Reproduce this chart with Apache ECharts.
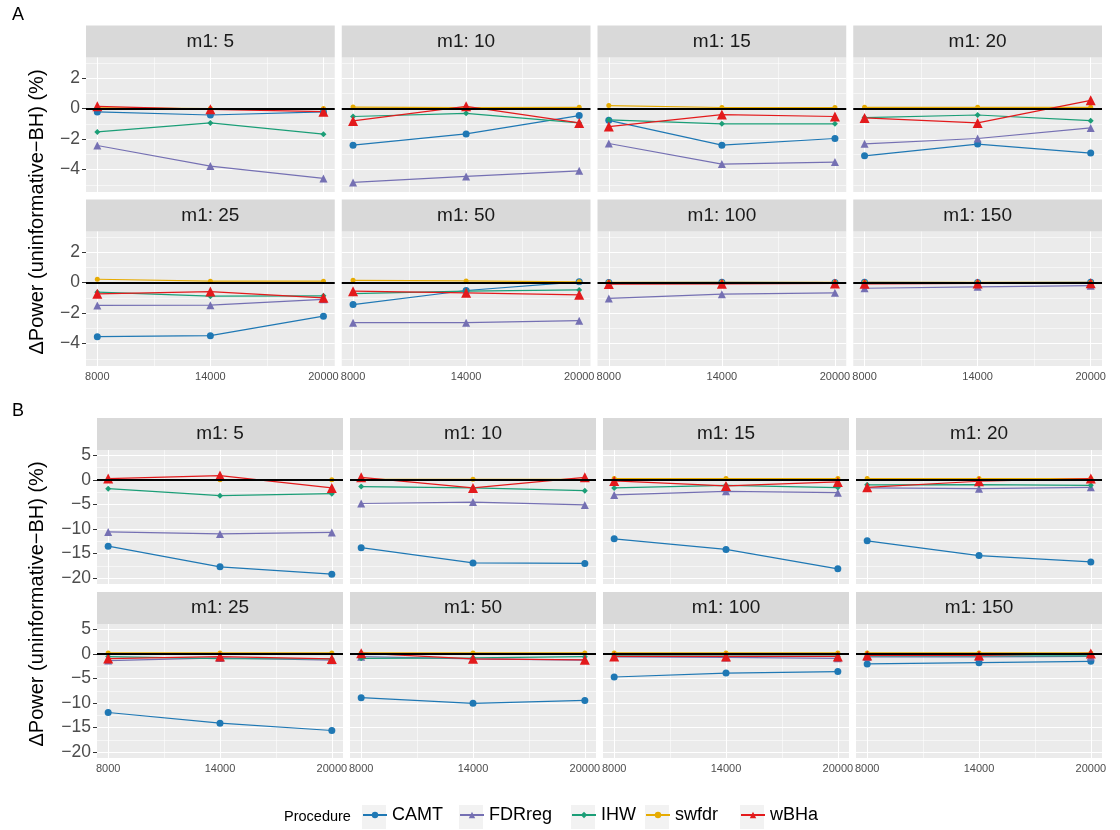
<!DOCTYPE html>
<html>
<head>
<meta charset="utf-8">
<title>ΔPower by number of tests</title>
<script src="https://cdn.jsdelivr.net/npm/echarts@6/dist/echarts.min.js"></script>
<style>
  html, body { margin: 0; padding: 0; background: #ffffff; }
  #chart { width: 1120px; height: 830px; }
</style>
</head>
<body>
<div id="chart"></div>
<script>
// ---- data ----------------------------------------------------------------
const nTests = [8000, 14000, 20000];
const m1Levels = [5, 10, 15, 20, 25, 50, 100, 150];
const procedures = ['CAMT', 'FDRreg', 'IHW', 'swfdr', 'wBHa'];

const xTicks = [8000, 14000, 20000];
const xMinor = [11000, 17000];
const yTicksA = [-4, -2, 0, 2];
const yMinorA = [-5, -3, -1, 1, 3];
const yTicksB = [-20, -15, -10, -5, 0, 5];
const yMinorB = [-17.5, -12.5, -7.5, -2.5, 2.5];

// one row per m1 level, one value per number of tests
const camtA = [
  [-0.22, -0.42, -0.22], [-2.40, -1.66, -0.46], [-0.77, -2.40, -1.96], [-3.10, -2.33, -2.92],
  [-3.55, -3.48, -2.20], [-1.44, -0.52, 0.05], [0.00, 0.02, 0.00], [0.02, 0.00, 0.02]
];
const fdrregA = [
  [-2.42, -3.77, -4.58], [-4.84, -4.45, -4.08], [-2.29, -3.64, -3.51], [-2.31, -1.96, -1.27],
  [-1.50, -1.48, -1.10], [-2.63, -2.63, -2.50], [-1.04, -0.76, -0.67], [-0.37, -0.28, -0.20]
];
const ihwA = [
  [-1.53, -0.94, -1.68], [-0.52, -0.31, -0.94], [-0.74, -1.00, -1.00], [-0.59, -0.42, -0.79],
  [-0.63, -0.89, -0.87], [-0.72, -0.56, -0.48], [-0.05, -0.03, -0.03], [-0.03, -0.02, -0.02]
];
const swfdrA = [
  [0.05, 0.00, 0.00], [0.10, 0.06, 0.08], [0.20, 0.07, 0.07], [0.08, 0.08, 0.08],
  [0.22, 0.09, 0.09], [0.15, 0.11, 0.05], [0.02, 0.02, 0.02], [0.02, 0.02, 0.02]
];
const wbhaA = [
  [0.15, -0.05, -0.20], [-0.81, 0.15, -0.94], [-1.18, -0.39, -0.52], [-0.61, -0.94, 0.54],
  [-0.74, -0.59, -1.00], [-0.56, -0.67, -0.80], [-0.10, -0.08, -0.06], [-0.08, -0.06, -0.05]
];

const camtB = [
  [-13.5, -17.7, -19.2], [-13.8, -16.9, -17.0], [-12.0, -14.15, -18.1], [-12.4, -15.4, -16.7],
  [-11.93, -14.1, -15.6], [-8.9, -10.07, -9.46], [-4.7, -3.9, -3.6], [-2.04, -1.77, -1.5]
];
const fdrregB = [
  [-10.6, -11.0, -10.7], [-4.8, -4.5, -5.1], [-3.06, -2.31, -2.59], [-1.63, -1.77, -1.5],
  [-1.36, -0.81, -1.29], [-0.55, -1.0, -1.25], [-0.6, -0.7, -0.9], [-0.6, -0.6, -0.5]
];
const ihwB = [
  [-1.77, -3.2, -2.79], [-1.36, -1.63, -2.18], [-1.63, -1.09, -1.56], [-1.0, -0.95, -1.09],
  [-0.54, -0.95, -1.02], [-0.9, -0.8, -0.55], [-0.4, -0.45, -0.45], [-0.4, -0.4, -0.4]
];
const swfdrB = [
  [0.05, 0.05, 0.05], [0.12, 0.12, 0.12], [0.27, 0.27, 0.27], [0.27, 0.27, 0.27],
  [0.2, 0.2, 0.2], [0.2, 0.2, 0.2], [0.2, 0.2, 0.2], [0.2, 0.2, 0.2]
];
const wbhaB = [
  [0.27, 0.88, -1.63], [0.54, -1.63, 0.54], [-0.2, -1.22, -0.41], [-1.5, -0.27, 0.27],
  [-0.95, -0.54, -1.02], [0.15, -1.0, -1.2], [-0.5, -0.5, -0.5], [-0.3, -0.3, 0.1]
];

// ---- styling / layout ----------------------------------------------------
const FONT = '"Liberation Sans", Arial, Helvetica, sans-serif';
const procStyle = {
  CAMT:   { color: '#1f78b4', symbol: 'circle',   size: 7 },
  FDRreg: { color: '#7570b3', symbol: 'triangle', size: 8 },
  IHW:    { color: '#1b9e77', symbol: 'diamond',  size: 6 },
  swfdr:  { color: '#e6ab02', symbol: 'circle',   size: 5 },
  wBHa:   { color: '#e31a1c', symbol: 'triangle', size: 10 }
};

const panels = [
  { tag: 'A', tagY: 15,
    values: { CAMT: camtA, FDRreg: fdrregA, IHW: ihwA, swfdr: swfdrA, wBHa: wbhaA },
    yRange: [-5.47, 3.35], yTicks: yTicksA, yMinor: yMinorA,
    left: 86, width: 248.75, tops: [57.5, 231.5], height: 134.5, titleY: 212 },
  { tag: 'B', tagY: 411,
    values: { CAMT: camtB, FDRreg: fdrregB, IHW: ihwB, swfdr: swfdrB, wBHa: wbhaB },
    yRange: [-21.2, 6.1], yTicks: yTicksB, yMinor: yMinorB,
    left: 97, width: 246, tops: [450, 624], height: 134, titleY: 604 }
];
const xRange = [7400, 20600];
const GAP = 7, STRIP = 32;

const minusFmt = v => String(v).replace('-', '\u2212');
const plainFmt = v => String(v);

const grids = [], xAxes = [], yAxes = [], series = [], graphics = [];

panels.forEach(p => {
  m1Levels.forEach((m1, f) => {
    const row = Math.floor(f / 4), col = f % 4;
    const g = grids.length;
    const left = p.left + col * (p.width + GAP);
    const top = p.tops[row];
    const bottomRow = row === 1, firstCol = col === 0;

    grids.push({ left, top, width: p.width, height: p.height,
      show: true, backgroundColor: '#ebebeb', borderWidth: 0, containLabel: false });

    xAxes.push({ type: 'value', gridIndex: g, min: xRange[0], max: xRange[1],
      axisLine: { show: false }, splitLine: { show: false },
      axisTick: { show: bottomRow, customValues: xTicks, length: 4, lineStyle: { color: '#333333', width: 1 } },
      axisLabel: { show: bottomRow, customValues: xTicks, fontSize: 11, color: '#4d4d4d',
        fontFamily: FONT, margin: 5, formatter: plainFmt } });

    yAxes.push({ type: 'value', gridIndex: g, min: p.yRange[0], max: p.yRange[1],
      axisLine: { show: false }, splitLine: { show: false },
      axisTick: { show: firstCol, customValues: p.yTicks, length: 4, lineStyle: { color: '#333333', width: 1 } },
      axisLabel: { show: firstCol, customValues: p.yTicks, fontSize: 17.5, color: '#4d4d4d',
        fontFamily: FONT, margin: 6, formatter: minusFmt } });

    // panel grid lines
    const gl = [];
    p.yMinor.forEach(v => gl.push({ yAxis: v, lineStyle: { color: '#ffffff', width: 0.55, type: 'solid' } }));
    xMinor.forEach(v => gl.push({ xAxis: v, lineStyle: { color: '#ffffff', width: 0.55, type: 'solid' } }));
    p.yTicks.forEach(v => gl.push({ yAxis: v, lineStyle: { color: '#ffffff', width: 1.1, type: 'solid' } }));
    xTicks.forEach(v => gl.push({ xAxis: v, lineStyle: { color: '#ffffff', width: 1.1, type: 'solid' } }));
    series.push({ type: 'line', name: '_grid', xAxisIndex: g, yAxisIndex: g, data: [], silent: true,
      markLine: { silent: true, symbol: 'none', z: 1, animation: false, label: { show: false },
        emphasis: { disabled: true }, data: gl } });

    procedures.forEach(name => {
      const st = procStyle[name];
      series.push({
        type: 'line', name, xAxisIndex: g, yAxisIndex: g, z: 2,
        data: nTests.map((x, i) => [x, p.values[name][f][i]]),
        symbol: st.symbol, symbolSize: st.size, showSymbol: true,
        itemStyle: { color: st.color },
        lineStyle: { color: st.color, width: 1.2 },
        emphasis: { disabled: true }, animation: false
      });
    });

    // zero reference line
    series.push({ type: 'line', name: '_zero', xAxisIndex: g, yAxisIndex: g, data: [], silent: true,
      markLine: { silent: true, symbol: 'none', z: 3, animation: false, label: { show: false },
        emphasis: { disabled: true },
        data: [{ yAxis: 0, lineStyle: { color: '#000000', width: 2, type: 'solid' } }] } });

    // facet strip
    graphics.push({ type: 'rect', shape: { x: left, y: top - STRIP, width: p.width, height: STRIP },
      style: { fill: '#d9d9d9' }, silent: true });
    graphics.push({ type: 'text', x: left + p.width / 2, y: top - STRIP / 2, silent: true,
      style: { text: 'm1: ' + m1, font: '19px ' + FONT, fill: '#1a1a1a',
        textAlign: 'center', textVerticalAlign: 'middle' } });
  });

  graphics.push({ type: 'text', x: 12, y: p.tagY, silent: true,
    style: { text: p.tag, font: '18px ' + FONT, fill: '#000000', textAlign: 'left', textVerticalAlign: 'middle' } });
  graphics.push({ type: 'text', x: 37, y: p.titleY, rotation: Math.PI / 2, silent: true,
    style: { text: '\u0394Power (uninformative\u2212BH) (%)', font: '20px ' + FONT, fill: '#000000',
      textAlign: 'center', textVerticalAlign: 'middle' } });
});

// legend
const legendLeft = [362, 459, 571, 645, 740];
const legendTop = 817;
graphics.push({ type: 'text', x: 284, y: legendTop, silent: true,
  style: { text: 'Procedure', font: '14.5px ' + FONT, fill: '#000000', textAlign: 'left', textVerticalAlign: 'middle' } });
legendLeft.forEach(x => graphics.push({ type: 'rect', shape: { x: x, y: legendTop - 12, width: 24, height: 24 },
  style: { fill: '#f2f2f2' }, silent: true }));

const legends = procedures.map((name, i) => ({
  data: [name], left: legendLeft[i], top: legendTop - 11, padding: 0,
  itemWidth: 24, itemHeight: 8, selectedMode: false,
  textStyle: { fontSize: 18, color: '#000000', fontFamily: FONT }
}));

const chart = echarts.init(document.getElementById('chart'), null, { renderer: 'canvas' });
chart.setOption({
  backgroundColor: '#ffffff',
  animation: false,
  textStyle: { fontFamily: FONT },
  grid: grids,
  xAxis: xAxes,
  yAxis: yAxes,
  legend: legends,
  series,
  graphic: { elements: graphics }
});
</script>
</body>
</html>
